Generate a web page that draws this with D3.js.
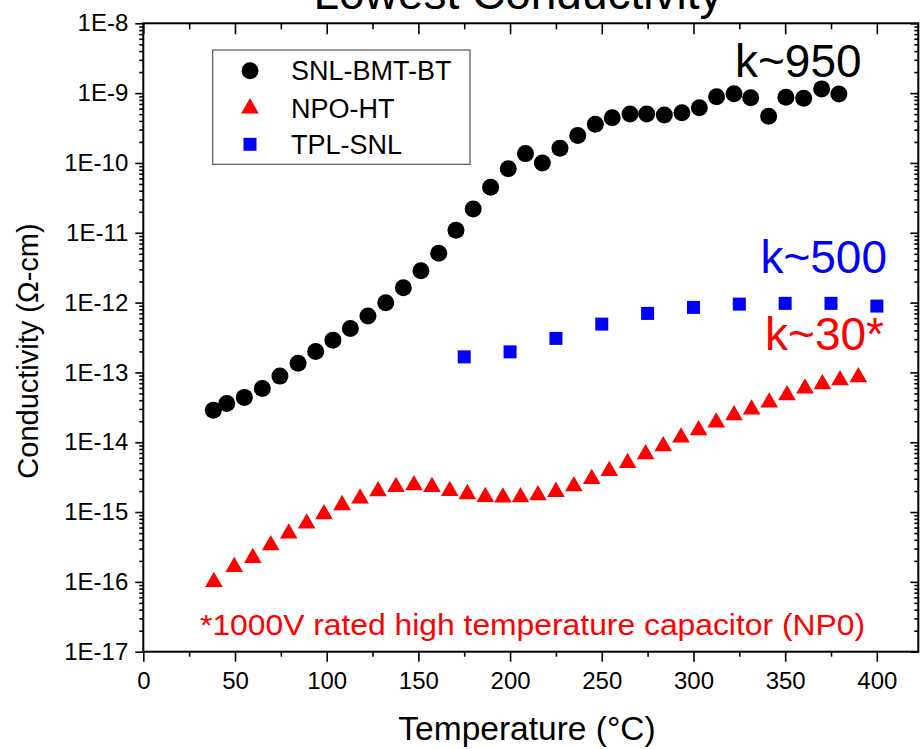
<!DOCTYPE html>
<html>
<head>
<meta charset="utf-8">
<script src="https://cdn.jsdelivr.net/npm/d3@7"></script>
<style>
  html, body { margin: 0; padding: 0; background: #fff; }
  svg { display: block; }
  text { font-family: "Liberation Sans", Arial, sans-serif; }
</style>
</head>
<body>
<svg id="chart" width="924" height="749"></svg>
<script>
// ---- data ----
const titleText = "Lowest Conductivity";
const xLabel = "Temperature (°C)";
const yLabel = "Conductivity (Ω-cm)";
const xTickValues = [0, 50, 100, 150, 200, 250, 300, 350, 400];
const yTickExponents = [-17, -16, -15, -14, -13, -12, -11, -10, -9, -8];
const seriesNames = ["SNL-BMT-BT", "NPO-HT", "TPL-SNL"];
const seriesColors = ["#000000", "#ff0000", "#0000ff"];

const tempBMT = [38.2, 45.5, 55.1, 64.9, 74.5, 84.4, 94.0, 103.4, 112.9, 122.5, 132.2, 141.8, 151.4, 161.1, 170.5, 179.9, 189.4, 199.0, 208.4, 217.6, 227.2, 236.9, 246.5, 255.7, 265.4, 274.5, 284.1, 293.7, 303.2, 312.6, 322.1, 331.2, 341.0, 350.4, 360.1, 369.9, 379.3];
const condBMT = [2.88e-14, 3.60e-14, 4.39e-14, 5.90e-14, 8.85e-14, 1.35e-13, 2.00e-13, 2.90e-13, 4.27e-13, 6.41e-13, 9.93e-13, 1.63e-12, 2.86e-12, 5.07e-12, 1.09e-11, 2.19e-11, 4.47e-11, 8.26e-11, 1.36e-10, 9.98e-11, 1.63e-10, 2.48e-10, 3.57e-10, 4.45e-10, 5.02e-10, 5.02e-10, 4.85e-10, 5.24e-10, 6.18e-10, 8.87e-10, 9.79e-10, 8.59e-10, 4.66e-10, 8.71e-10, 8.43e-10, 1.15e-9, 9.70e-10];

const tempNPO = [38.5, 49.6, 59.7, 69.5, 79.3, 89.1, 98.5, 108.4, 118.2, 128.0, 137.8, 147.6, 157.4, 167.1, 176.7, 186.5, 196.1, 205.7, 215.2, 225.0, 234.8, 244.5, 254.1, 264.1, 273.9, 283.5, 293.2, 302.8, 312.4, 322.1, 331.7, 341.3, 351.0, 360.8, 370.3, 379.9, 389.9];
const condNPO = [1.00e-16, 1.64e-16, 2.21e-16, 3.36e-16, 4.93e-16, 6.87e-16, 9.33e-16, 1.26e-15, 1.57e-15, 1.99e-15, 2.29e-15, 2.43e-15, 2.29e-15, 2.01e-15, 1.81e-15, 1.65e-15, 1.62e-15, 1.63e-15, 1.75e-15, 1.95e-15, 2.35e-15, 2.99e-15, 3.89e-15, 5.07e-15, 6.75e-15, 8.79e-15, 1.17e-14, 1.49e-14, 1.92e-14, 2.44e-14, 2.95e-14, 3.72e-14, 4.73e-14, 5.90e-14, 6.80e-14, 7.76e-14, 8.57e-14];

const tempTPL = [175, 200, 225, 250, 275, 300, 325, 350, 375, 400];
const condTPL = [1.67e-13, 1.97e-13, 3.07e-13, 4.92e-13, 7.00e-13, 8.53e-13, 9.51e-13, 9.75e-13, 9.75e-13, 8.91e-13];

const annotationTexts = ["k~950", "k~500", "k~30*"];
const noteText = "*1000V rated high temperature capacitor (NP0)";

(function () {
// ---- layout ----
const svg = d3.select("#chart");
const pL = 143.3, pR = 918.3, pT = 23.3, pB = 651.7;

const x = d3.scaleLinear().domain([0, 422.6]).range([pL, pR]);
const y = d3.scaleLog().domain([1e-17, 1e-8]).range([pB, pT]);

const xMinor = d3.range(25, 425, 50);
const yMinor = [];
for (let e = -17; e < -8; e++) for (let m = 2; m <= 9; m++) yMinor.push(m * Math.pow(10, e));
const yMajor = yTickExponents.map(e => Math.pow(10, e));

// bottom axis
svg.append("g").attr("transform", `translate(0,${pB})`)
  .call(d3.axisBottom(x).tickValues(xTickValues).tickSize(10).tickPadding(10).tickFormat(d3.format("d")));
svg.append("g").attr("transform", `translate(0,${pB})`)
  .call(d3.axisBottom(x).tickValues(xMinor).tickSize(5).tickFormat(""));
// top axis (inward ticks)
svg.append("g").attr("transform", `translate(0,${pT})`)
  .call(d3.axisBottom(x).tickValues(xTickValues).tickSize(11).tickFormat(""));
svg.append("g").attr("transform", `translate(0,${pT})`)
  .call(d3.axisBottom(x).tickValues(xMinor).tickSize(6).tickFormat(""));

// left axis
svg.append("g").attr("transform", `translate(${pL},0)`)
  .call(d3.axisLeft(y).tickValues(yMajor).tickSize(8).tickPadding(7)
    .tickFormat(d => "1E" + Math.round(Math.log10(d))));
svg.append("g").attr("transform", `translate(${pL},0)`)
  .call(d3.axisLeft(y).tickValues(yMinor).tickSize(4).tickFormat(""));
// right axis (inward)
svg.append("g").attr("transform", `translate(${pR},0)`)
  .call(d3.axisLeft(y).tickValues(yMajor).tickSize(8).tickFormat(""));
svg.append("g").attr("transform", `translate(${pR},0)`)
  .call(d3.axisLeft(y).tickValues(yMinor).tickSize(4).tickFormat(""));

svg.selectAll(".domain").remove();
svg.selectAll(".tick line").attr("stroke", "#000").attr("stroke-width", 1.6);
svg.selectAll(".tick text").attr("fill", "#000").style("font-size", "24px")
  .style("font-family", '"Liberation Sans", Arial, sans-serif');

// frame
svg.append("rect").attr("x", pL).attr("y", pT).attr("width", pR - pL).attr("height", pB - pT)
  .attr("fill", "none").attr("stroke", "#000").attr("stroke-width", 2);

// data marks
const gData = svg.append("g");
gData.selectAll("circle.bmt").data(tempBMT.map((t, i) => [t, condBMT[i]])).join("circle")
  .attr("class", "bmt").attr("cx", d => x(d[0])).attr("cy", d => y(d[1])).attr("r", 8.5)
  .attr("fill", seriesColors[0]);

const tri = d3.symbol(d3.symbolTriangle, 135);
gData.selectAll("path.npo").data(tempNPO.map((t, i) => [t, condNPO[i]])).join("path")
  .attr("class", "npo").attr("d", tri)
  .attr("transform", d => `translate(${x(d[0])},${y(d[1])})`)
  .attr("fill", seriesColors[1]);

const sq = 13;
gData.selectAll("rect.tpl").data(tempTPL.map((t, i) => [t, condTPL[i]])).join("rect")
  .attr("class", "tpl").attr("x", d => x(d[0]) - sq / 2).attr("y", d => y(d[1]) - sq / 2)
  .attr("width", sq).attr("height", sq).attr("fill", seriesColors[2]);

// legend
const lg = svg.append("g");
lg.append("rect").attr("x", 212.7).attr("y", 50).attr("width", 257.3).attr("height", 114.3)
  .attr("fill", "#fff").attr("stroke", "#555").attr("stroke-width", 1.2);
const rowsY = [70.7, 108.3, 144.3];
lg.append("circle").attr("cx", 250).attr("cy", rowsY[0]).attr("r", 8.5).attr("fill", seriesColors[0]);
lg.append("path").attr("d", tri).attr("transform", `translate(250,${rowsY[1]})`).attr("fill", seriesColors[1]);
lg.append("rect").attr("x", 250 - sq / 2).attr("y", rowsY[2] - sq / 2).attr("width", sq).attr("height", sq).attr("fill", seriesColors[2]);
seriesNames.forEach((n, i) => {
  lg.append("text").attr("x", 291).attr("y", rowsY[i] + 9.5).style("font-size", "27px").attr("fill", "#000").text(n);
});

// annotations
svg.append("text").attr("x", 735).attr("y", 77).style("font-size", "46px").attr("fill", seriesColors[0]).text(annotationTexts[0]);
svg.append("text").attr("x", 887).attr("y", 273).attr("text-anchor", "end").style("font-size", "46px").attr("fill", seriesColors[2]).text(annotationTexts[1]);
svg.append("text").attr("x", 884).attr("y", 350).attr("text-anchor", "end").style("font-size", "46px").attr("fill", seriesColors[1]).text(annotationTexts[2]);

svg.append("text").attr("x", 200).attr("y", 635).style("font-size", "30px").attr("fill", "#ff0000")
  .attr("textLength", 665).attr("lengthAdjust", "spacingAndGlyphs").text(noteText);

// titles
svg.append("text").attr("x", 518).attr("y", 9).attr("text-anchor", "middle").style("font-size", "46px")
  .attr("fill", "#000").text(titleText);
svg.append("text").attr("x", 527).attr("y", 740).attr("text-anchor", "middle").style("font-size", "33.5px")
  .attr("fill", "#000").text(xLabel);
svg.append("text").attr("transform", "translate(38,351) rotate(-90)").attr("text-anchor", "middle")
  .style("font-size", "29px").attr("fill", "#000").text(yLabel);
})();
</script>
</body>
</html>
